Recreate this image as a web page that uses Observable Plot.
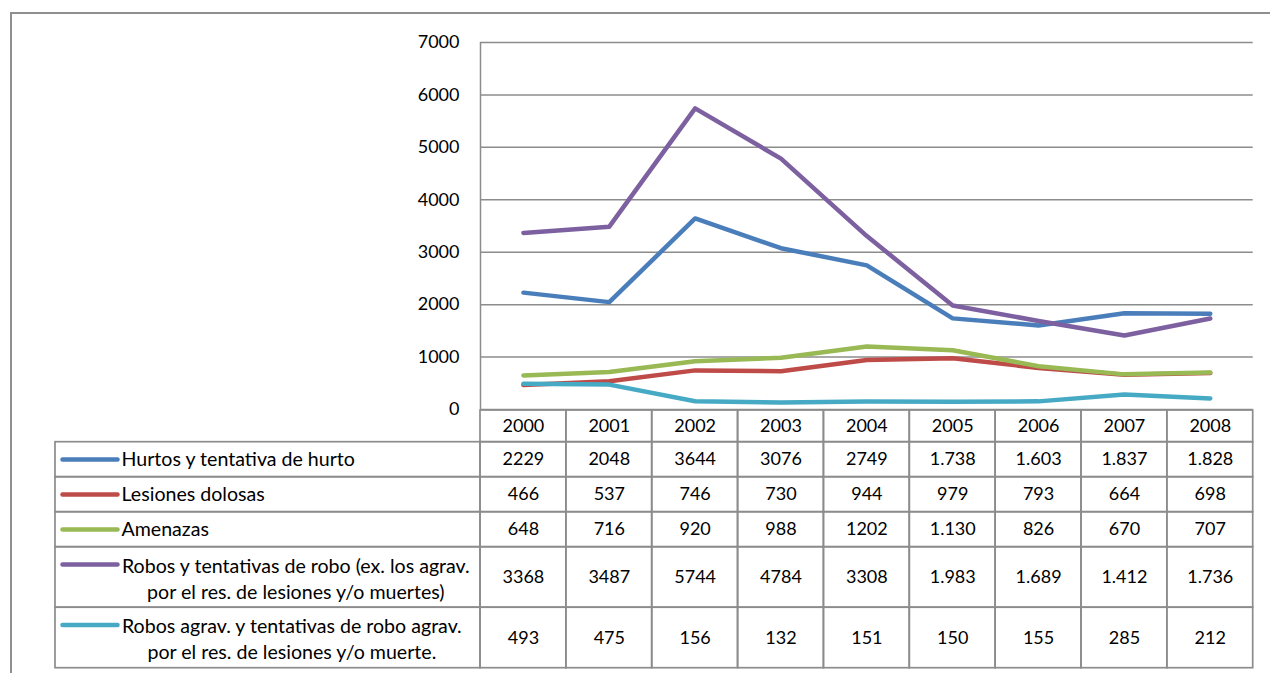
<!DOCTYPE html>
<html><head><meta charset="utf-8">
<script src="https://cdn.jsdelivr.net/npm/d3@7"></script>
<script src="https://cdn.jsdelivr.net/npm/@observablehq/plot@0.6"></script>
<style>
html,body{margin:0;padding:0;background:#fff;}
#wrap{position:relative;width:1270px;height:673px;overflow:hidden;font-family:Lato,sans-serif;background:#fff;}
#frame{position:absolute;left:10px;top:12px;width:1300px;height:700px;border-top:2px solid #8f8f8f;border-left:2px solid #8f8f8f;}
#chart,#table{position:absolute;left:0;}
#chart{top:0;} #table{top:409px;}
</style></head><body>
<div id="wrap"><div id="frame"></div><div id="chart"></div><div id="table"></div></div>
<script>
// ---- data ----
const years = ["2000","2001","2002","2003","2004","2005","2006","2007","2008"];
const seriesNames = [
  "Hurtos y tentativa de hurto",
  "Lesiones dolosas",
  "Amenazas",
  "Robos y tentativas de robo (ex. los agrav.\npor el res. de lesiones y/o muertes)",
  "Robos agrav. y tentativas de robo agrav.\npor el res. de lesiones y/o muerte."
];
const hurtos    = ["2229","2048","3644","3076","2749","1.738","1.603","1.837","1.828"];
const lesiones  = ["466","537","746","730","944","979","793","664","698"];
const amenazas  = ["648","716","920","988","1202","1.130","826","670","707"];
const robos     = ["3368","3487","5744","4784","3308","1.983","1.689","1.412","1.736"];
const robosAgr  = ["493","475","156","132","151","150","155","285","212"];
const seriesColors = ["#4a7ebb","#be4b48","#98b954","#7d60a0","#46aac5"];
const yTicks = [0,1000,2000,3000,4000,5000,6000,7000];

// ---- build tables ----
const seriesLabels = [hurtos, lesiones, amenazas, robos, robosAgr];
const toNum = s => +s.replace(/\./g, "");
const points = seriesLabels.flatMap((arr, k) => arr.map((s, i) => ({series: k, year: years[i], i, value: toNum(s)})));

// ---- layout ----
const W = 1270;
const X_RANGE = [480, 1252.7];
const colW = (X_RANGE[1] - X_RANGE[0]) / years.length;
const TABLE_LEFT = 55;
const leftU = (TABLE_LEFT - X_RANGE[0]) / colW;
const FONT = 18;
const LABEL_FONT = 19.6;
const GRID = "#8c8c8c";
const headerH = 31.7, lineRowH = 35, twoLineRowH = 60.5;

const canvas = document.createElement("canvas").getContext("2d");
canvas.font = `${LABEL_FONT}px Lato`;
const textW = s => Math.max(...s.split("\n").map(l => canvas.measureText(l).width));

let acc = headerH;
const rows = seriesNames.map((name, k) => {
  const lines = name.split("\n").length;
  const h = lines > 1 ? twoLineRowH : lineRowH;
  const r = {k, name, lines, top: acc, bottom: acc + h, mid: acc + h / 2, color: seriesColors[k], w: textW(name)};
  acc += h;
  return r;
});
const tableH = acc;
const cells = rows.flatMap(r => years.map((y, i) => ({i, top: r.top, bottom: r.bottom, mid: r.mid, label: seriesLabels[r.k][i]})));

const baseStyle = {fontFamily: "Lato, sans-serif", fontSize: FONT + "px", color: "#000", background: "transparent", overflow: "visible"};

// ---- chart ----
const chart = Plot.plot({
  width: W, height: 410,
  marginTop: 42, marginBottom: 1, marginLeft: X_RANGE[0], marginRight: W - X_RANGE[1],
  style: baseStyle,
  x: {domain: [0, years.length], range: X_RANGE, axis: null},
  y: {domain: [0, 7000], axis: null, label: null},
  marks: [
    Plot.ruleY(yTicks, {stroke: GRID, strokeWidth: 1.5, strokeOpacity: 1}),
    Plot.ruleX([0], {y1: 0, y2: 7000, stroke: GRID, strokeWidth: 1.5, strokeOpacity: 1}),
    Plot.axisY(yTicks, {label: null, tickSize: 0, tickPadding: 21, tickFormat: d => String(d), fontSize: FONT, fill: "#000"}),
    ...seriesColors.map((c, k) => Plot.line(points.filter(p => p.series === k), {
      x: d => d.i + 0.5, y: "value", stroke: c, strokeWidth: 4.5, strokeLinecap: "round", strokeLinejoin: "round"
    }))
  ]
});
document.getElementById("chart").append(chart);

// ---- data table ----
const table = Plot.plot({
  width: W, height: 673 - 409,
  margin: 0,
  style: baseStyle,
  x: {domain: [0, years.length], range: X_RANGE, axis: null},
  y: {domain: [0, tableH], range: [1, 1 + tableH], axis: null},
  marks: [
    Plot.rect(years, {x1: (d, i) => i, x2: (d, i) => i + 1, y1: 0, y2: headerH, fill: "none", stroke: GRID, strokeWidth: 1.7}),
    Plot.rect(cells, {x1: "i", x2: d => d.i + 1, y1: "top", y2: "bottom", fill: "none", stroke: GRID, strokeWidth: 1.7}),
    Plot.rect(rows, {x1: leftU, x2: 0, y1: "top", y2: "bottom", fill: "none", stroke: GRID, strokeWidth: 1.7}),
    Plot.text(years, {x: (d, i) => i + 0.5, y: headerH / 2, text: d => d, fill: "#000", fontSize: FONT}),
    Plot.text(cells, {x: d => d.i + 0.5, y: "mid", text: "label", fill: "#000", fontSize: FONT}),
    Plot.link(rows, {x1: leftU + 7 / colW, x2: leftU + 62 / colW, y1: d => d.top + 17.3, y2: d => d.top + 17.3,
      stroke: d => d.color, strokeWidth: 4.5, strokeLinecap: "round"}),
    Plot.text(rows.filter(r => r.lines === 1), {x: leftU + 66 / colW, y: "mid", text: "name", textAnchor: "start", fill: "#000", fontSize: LABEL_FONT}),
    Plot.text(rows.filter(r => r.lines > 1), {x: d => leftU + (66 + d.w / 2) / colW, y: "mid", text: "name", textAnchor: "middle",
      lineHeight: 26 / LABEL_FONT, fill: "#000", fontSize: LABEL_FONT})
  ],
  color: {type: "identity"}
});
document.getElementById("table").append(table);
</script>
</body></html>
